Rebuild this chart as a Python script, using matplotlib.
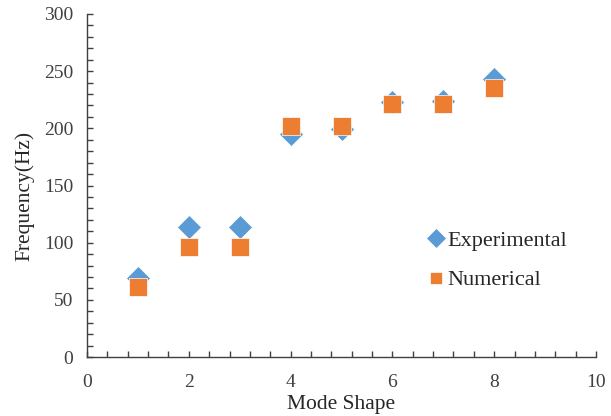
import matplotlib
matplotlib.use("Agg")
import matplotlib.pyplot as plt
from matplotlib.ticker import MultipleLocator

plt.rcParams['font.family'] = ['Liberation Serif', 'DejaVu Serif']

mode = [1, 2, 3, 4, 5, 6, 7, 8]
experimental = [69, 114, 114, 195, 199, 223, 224, 243]
numerical = [61, 96, 96, 202, 202, 221, 221, 235]

blue = '#5B9BD5'
orange = '#ED7D31'

fig = plt.figure(figsize=(6.11, 4.16), dpi=100)
ax = fig.add_axes([87/611, 1-357/416, 509/611, 343/416])

ax.plot(mode, experimental, linestyle='none', marker='D', markersize=12.5,
        color=blue, markeredgecolor='white', markeredgewidth=0.5, label='Experimental', zorder=3)
ax.plot(mode, numerical, linestyle='none', marker='s', markersize=12.3,
        color=orange, markeredgecolor='white', markeredgewidth=0.5, label='Numerical', zorder=4)

ax.set_xlim(0, 10)
ax.set_ylim(0, 300)
ax.xaxis.set_major_locator(MultipleLocator(2))
ax.xaxis.set_minor_locator(MultipleLocator(0.4))
ax.yaxis.set_major_locator(MultipleLocator(50))
ax.yaxis.set_minor_locator(MultipleLocator(10))

for s in ['top', 'right']:
    ax.spines[s].set_visible(False)
for s in ['left', 'bottom']:
    ax.spines[s].set_color('#404040')
    ax.spines[s].set_linewidth(1.0)

ax.tick_params(axis='both', which='both', direction='in', color='#404040', width=1.0, length=4)
ax.tick_params(axis='y', which='major', pad=10, labelsize=14, labelcolor='#404040')
ax.tick_params(axis='x', which='major', pad=12.5, labelsize=14, labelcolor='#404040')

ax.set_xlabel('Mode Shape', fontsize=15.5, color='#262626')
ax.set_ylabel('Frequency(Hz)', fontsize=15.5, color='#262626')
ax.xaxis.set_label_coords(0.5, -0.111)
ax.yaxis.set_label_coords(-0.103, 0.47)

leg = ax.legend(loc='upper left', bbox_to_anchor=(0.647, 0.395), frameon=False,
                fontsize=16, handletextpad=0.0, labelspacing=0.85,
                handlelength=1.0, borderaxespad=0)
for t in leg.get_texts():
    t.set_color('#262626')
handles = leg.legend_handles
handles[0].set_markersize(10.5)
handles[1].set_markersize(8.0)

fig.savefig('out.png', dpi=100)
